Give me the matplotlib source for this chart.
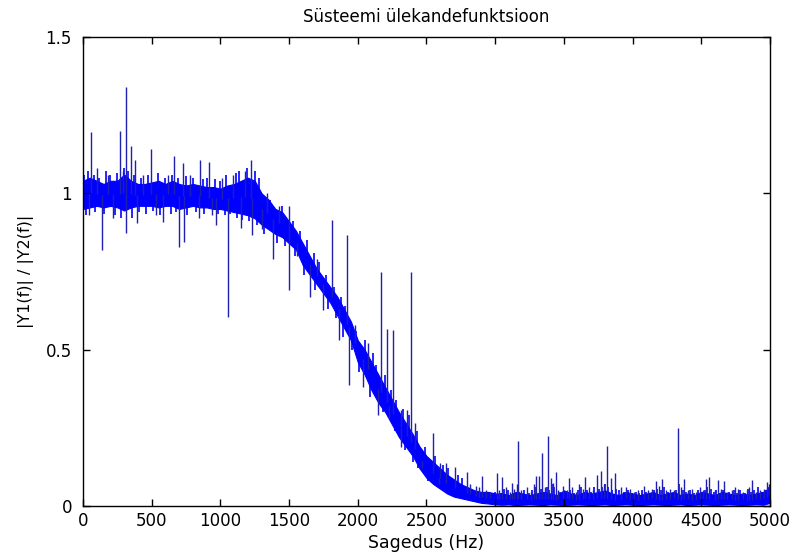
import matplotlib
matplotlib.use("Agg")
import matplotlib.pyplot as plt
import numpy as np

# band of the transfer function magnitude, sampled every 50 Hz (upper / lower edge)
band_f = np.arange(0, 5001, 50)
band_hi = [
    1.04, 1.05, 1.04, 1.03, 1.04, 1.04, 1.06, 1.04, 1.03, 1.03,
    1.035, 1.04, 1.03, 1.04, 1.03, 1.025, 1.03, 1.025, 1.02, 1.02,
    1.015, 1.025, 1.03, 1.04, 1.05, 1.04, 1.00, 0.98, 0.95, 0.94,
    0.91, 0.88, 0.84, 0.80, 0.76, 0.73, 0.70, 0.67, 0.63, 0.59,
    0.53, 0.50, 0.46, 0.42, 0.38, 0.34, 0.30, 0.265, 0.23, 0.19,
    0.16, 0.14, 0.12, 0.10, 0.085, 0.07, 0.06, 0.05, 0.045, 0.045,
    0.04, 0.04, 0.035, 0.045, 0.04, 0.035, 0.04, 0.045, 0.04, 0.035,
    0.05, 0.04, 0.035, 0.045, 0.04, 0.045, 0.05, 0.04, 0.035, 0.045,
    0.04, 0.035, 0.04, 0.045, 0.035, 0.04, 0.045, 0.035, 0.04, 0.035,
    0.045, 0.04, 0.035, 0.045, 0.04, 0.035, 0.04, 0.035, 0.04, 0.045,
    0.06,
]
band_lo = [
    0.95, 0.955, 0.96, 0.955, 0.96, 0.955, 0.945, 0.955, 0.96, 0.96,
    0.96, 0.955, 0.96, 0.96, 0.95, 0.955, 0.96, 0.955, 0.955, 0.95,
    0.95, 0.945, 0.94, 0.935, 0.93, 0.92, 0.90, 0.885, 0.87, 0.86,
    0.84, 0.82, 0.77, 0.74, 0.71, 0.68, 0.65, 0.61, 0.57, 0.53,
    0.46, 0.42, 0.37, 0.33, 0.30, 0.26, 0.22, 0.19, 0.16, 0.12,
    0.09, 0.07, 0.055, 0.04, 0.03, 0.025, 0.02, 0.015, 0.01, 0.008,
    0.005, 0.004, 0.005, 0.003, 0.004, 0.005, 0.004, 0.003, 0.005, 0.004,
    0.003, 0.004, 0.005, 0.004, 0.003, 0.004, 0.005, 0.003, 0.004, 0.005,
    0.004, 0.003, 0.004, 0.005, 0.004, 0.003, 0.004, 0.005, 0.003, 0.004,
    0.005, 0.004, 0.003, 0.004, 0.005, 0.004, 0.003, 0.004, 0.005, 0.004,
    0.01,
]

# isolated spikes: frequency (Hz) and the value the spike reaches
spike_f = [
    46, 60, 104, 138, 180, 220, 269, 290, 313, 313, 347, 381, 395, 440, 495,
    530, 585, 620, 665, 701, 725, 735, 780, 844, 852, 919, 940, 968, 1010,
    1058, 1090, 1150, 1180, 1220, 1232, 1300,
    1340, 1385, 1430, 1502, 1502, 1560, 1650, 1700, 1744, 1810, 1863, 1924,
    1935, 1980, 2035, 2074, 2150, 2166, 2210, 2226, 2258, 2312, 2318, 2356,
    2385, 2416, 2468, 2545, 2590, 2598, 2642, 2707, 2795, 2820, 2860, 2880,
    2902, 2930, 2960,
    3016, 3030, 3052, 3080, 3110, 3120, 3140, 3156, 3164, 3190, 3230, 3260,
    3280, 3295, 3319, 3341, 3360, 3387, 3404, 3420, 3443, 3460, 3490, 3520,
    3535, 3560, 3590, 3610, 3640, 3654, 3680, 3710, 3743, 3768, 3790, 3811,
    3841, 3872, 3913, 3952, 3980, 4010, 4040, 4085, 4110, 4140, 4170, 4190,
    4216, 4240, 4270, 4300, 4328, 4350, 4376, 4400, 4430, 4460, 4490, 4510,
    4534, 4558, 4600, 4619, 4640, 4665, 4690, 4720, 4745, 4770, 4800, 4830,
    4850, 4871, 4900, 4930, 4960, 4976, 4995,
]
spike_y = [
    0.93, 1.195, 1.08, 0.818, 1.06, 0.92, 1.199, 1.07, 1.34, 0.872, 1.15, 1.105, 0.905, 1.06, 1.143,
    0.93, 0.908, 1.06, 1.118, 0.828, 1.097, 0.845, 1.06, 0.92, 1.105, 1.10, 0.93, 0.898, 1.05,
    0.605, 1.06, 0.89, 1.07, 1.105, 0.866, 0.886,
    1.00, 0.79, 0.96, 0.96, 0.69, 0.80, 0.67, 0.79, 0.626, 0.914, 0.53, 0.866,
    0.387, 0.58, 0.38, 0.52, 0.29, 0.749, 0.565, 0.28, 0.562, 0.306, 0.19, 0.306,
    0.749, 0.265, 0.12, 0.233, 0.07, 0.137, 0.137, 0.125, 0.108, 0.07, 0.065, 0.06,
    0.097, 0.05, 0.045,
    0.106, 0.05, 0.094, 0.06, 0.045, 0.073, 0.055, 0.07, 0.208, 0.05, 0.06, 0.045,
    0.07, 0.097, 0.097, 0.168, 0.06, 0.225, 0.09, 0.075, 0.11, 0.05, 0.065, 0.05,
    0.09, 0.06, 0.045, 0.07, 0.055, 0.094, 0.06, 0.05, 0.10, 0.112, 0.07, 0.192,
    0.089, 0.106, 0.06, 0.06, 0.055, 0.045, 0.05, 0.064, 0.05, 0.055, 0.08, 0.065,
    0.087, 0.05, 0.055, 0.05, 0.248, 0.06, 0.086, 0.05, 0.055, 0.045, 0.06, 0.05,
    0.087, 0.094, 0.05, 0.082, 0.055, 0.08, 0.045, 0.05, 0.06, 0.055, 0.045, 0.05,
    0.06, 0.082, 0.045, 0.05, 0.055, 0.076, 0.07,
]

# short ripples that fray the edges of the band
ripple_f = [
    10, 25, 35, 80, 90, 120, 155, 165, 200, 235, 250, 280, 300, 330, 360, 370,
    410, 420, 460, 475, 510, 545, 560, 600, 640, 650, 680, 690, 750, 760, 800,
    820, 870, 880, 900, 960, 985, 1000, 1030, 1040, 1070, 1110, 1120, 1135,
    1160, 1195, 1205, 1250, 1265, 1280,
    1320, 1360, 1410, 1450, 1470, 1530, 1545, 1580, 1610, 1630, 1680, 1690,
    1720, 1770, 1780, 1830, 1840, 1880, 1890, 1910, 1960, 1990, 2010, 2055,
    2090, 2110, 2130, 2180, 2195, 2240, 2270, 2280, 2330, 2340, 2370, 2400,
    2430, 2440, 2490, 2510, 2560, 2580, 2620, 2660, 2680, 2730, 2760, 2780,
    3000, 3045, 3065, 3095, 3130, 3175, 3210, 3245, 3270, 3300, 3330, 3350,
    3375, 3395, 3410, 3430, 3475, 3505, 3545, 3575, 3600, 3625, 3665, 3695,
    3720, 3755, 3780, 3800, 3820, 3850, 3880, 3900, 3940, 3965, 3995, 4025,
    4050, 4070, 4100, 4125, 4155, 4180, 4205, 4225, 4255, 4285, 4315, 4340,
    4365, 4390, 4415, 4445, 4475, 4500, 4525, 4545, 4570, 4590, 4610, 4630,
    4655, 4680, 4705, 4735, 4760, 4785, 4815, 4840, 4860, 4885, 4910, 4920,
    4945, 4970, 4985,
]
ripple_y = [
    1.06, 0.93, 1.07, 1.06, 0.94, 1.05, 0.935, 1.07, 1.06, 0.93, 1.065, 0.92, 1.08, 1.07, 0.92, 1.06,
    0.94, 1.05, 0.935, 1.06, 0.945, 1.065, 0.93, 1.05, 0.935, 1.06, 0.94, 1.05, 1.055, 0.93, 1.05,
    0.94, 1.045, 0.935, 1.05, 1.045, 0.935, 1.04, 0.93, 1.06, 0.935, 1.065, 0.92, 1.07,
    0.915, 1.08, 0.91, 1.07, 0.90, 1.05,
    0.87, 0.98, 0.84, 0.96, 0.83, 0.91, 0.80, 0.88, 0.74, 0.85, 0.81, 0.69,
    0.78, 0.74, 0.63, 0.70, 0.60, 0.67, 0.54, 0.64, 0.50, 0.56, 0.43, 0.53,
    0.35, 0.49, 0.45, 0.30, 0.42, 0.37, 0.24, 0.34, 0.31, 0.18, 0.29, 0.14,
    0.24, 0.12, 0.19, 0.08, 0.16, 0.06, 0.13, 0.12, 0.035, 0.10, 0.09, 0.02,
    0.045, 0.04, 0.055, 0.05, 0.04, 0.045, 0.05, 0.04, 0.05, 0.06, 0.055, 0.045,
    0.06, 0.05, 0.07, 0.06, 0.045, 0.04, 0.05, 0.04, 0.05, 0.06, 0.05, 0.045,
    0.06, 0.055, 0.06, 0.07, 0.06, 0.05, 0.055, 0.05, 0.045, 0.05, 0.04, 0.045,
    0.04, 0.05, 0.045, 0.04, 0.05, 0.055, 0.05, 0.06, 0.045, 0.04, 0.05, 0.07,
    0.05, 0.045, 0.05, 0.04, 0.05, 0.045, 0.05, 0.06, 0.055, 0.045, 0.05, 0.04,
    0.05, 0.04, 0.045, 0.05, 0.04, 0.05, 0.04, 0.055, 0.045, 0.05, 0.06, 0.04,
    0.045, 0.05, 0.06,
]

x_ticks = np.arange(0, 5001, 500)
y_ticks = [0, 0.5, 1, 1.5]
y_labels = ["0", "0.5", "1", "1.5"]

fig = plt.figure(figsize=(7.92, 5.58), dpi=100)
ax = fig.add_axes([0.1048, 0.0932, 0.8674, 0.8405])

hi = np.array(band_hi)
lo = np.array(band_lo)
mid = (hi + lo) / 2
ax.fill_between(band_f, lo, hi, color="#0000ff", linewidth=0.8, edgecolor="#0000ff")

ax.vlines(ripple_f, np.interp(ripple_f, band_f, mid), ripple_y,
          colors="#0000ff", linewidth=1.2)
ax.vlines(spike_f, np.interp(spike_f, band_f, mid), spike_y,
          colors="#2020b0", linewidth=1.0)

ax.set_xlim(0, 5000)
ax.set_ylim(0, 1.5)
ax.set_xticks(x_ticks)
ax.set_xticklabels([str(v) for v in x_ticks])
ax.set_yticks(y_ticks)
ax.set_yticklabels(y_labels)
ax.tick_params(axis="both", direction="in", length=5, width=1, top=True, right=True,
               labelsize=12)
ax.tick_params(axis="x", pad=4)
ax.tick_params(axis="y", pad=8)
for s in ax.spines.values():
    s.set_linewidth(1)

ax.set_title("Süsteemi ülekandefunktsioon", fontsize=12, pad=11)
ax.set_xlabel("Sagedus (Hz)", fontsize=12.5, labelpad=3)
ax.set_ylabel("|Y1(f)| / |Y2(f)|", fontsize=11.5, labelpad=8)

fig.savefig("out.png", dpi=100)
